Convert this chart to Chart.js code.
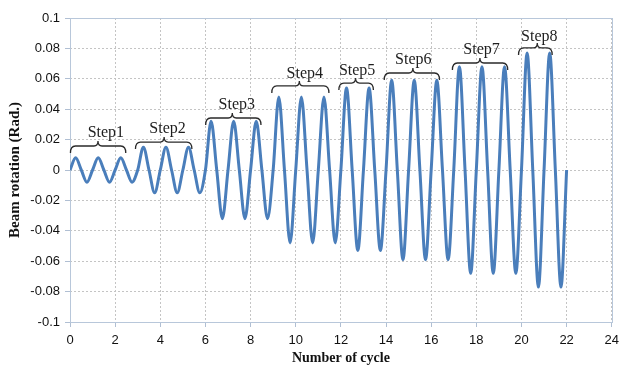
<!DOCTYPE html>
<html>
<head>
<meta charset="utf-8">
<script src="https://cdn.jsdelivr.net/npm/chart.js@4/dist/chart.umd.min.js"></script>
<style>
    html, body { margin: 0; padding: 0; background: #fff; }
    #wrap { width: 625px; height: 367px; }
</style>
</head>
<body>
<div id="wrap"><canvas id="beamRotation"></canvas></div>
<script>
// loading protocol: one +peak and one -peak per cycle
var stepNames = ["Step1", "Step2", "Step3", "Step4", "Step5", "Step6", "Step7", "Step8"];
var stepCycles = [3, 3, 3, 3, 2, 3, 3, 2];
var cyclePeaks = [0.008, 0.008, 0.008, 0.015, 0.015, 0.015, 0.032, 0.032, 0.032,
    0.048, 0.048, 0.048, 0.054, 0.054, 0.059, 0.059, 0.059,
    0.068, 0.068, 0.068, 0.077, 0.077];
var cycleTroughs = [-0.008, -0.008, -0.008, -0.015, -0.015, -0.015, -0.032, -0.032, -0.032,
    -0.048, -0.048, -0.048, -0.053, -0.053, -0.059, -0.059, -0.059,
    -0.068, -0.068, -0.068, -0.077, -0.077];
var xTicks = [0, 2, 4, 6, 8, 10, 12, 14, 16, 18, 20, 22, 24];
var yTicks = [-0.1, -0.08, -0.06, -0.04, -0.02, 0, 0.02, 0.04, 0.06, 0.08, 0.1];

// where each bracket + label sits (data units)
var bracketLayout = [
    { x0: 0.02, x1: 2.47, tip: 1.24, y: 0.0158, lx: 1.59, ly: 0.0217 },
    { x0: 2.90, x1: 5.40, tip: 4.17, y: 0.0184, lx: 4.32, ly: 0.0243 },
    { x0: 6.01, x1: 8.46, tip: 7.19, y: 0.0342, lx: 7.39, ly: 0.0401 },
    { x0: 8.94, x1: 11.47, tip: 10.16, y: 0.0553, lx: 10.40, ly: 0.0605 },
    { x0: 11.91, x1: 13.44, tip: 12.65, y: 0.0572, lx: 12.72, ly: 0.0625 },
    { x0: 13.92, x1: 16.37, tip: 15.19, y: 0.0638, lx: 15.21, ly: 0.0697 },
    { x0: 16.94, x1: 19.39, tip: 18.16, y: 0.0704, lx: 18.23, ly: 0.0763 },
    { x0: 19.87, x1: 21.36, tip: 20.70, y: 0.0803, lx: 20.79, ly: 0.0849 }
];

var BEAMCHART = new BeamChart();

function BeamChart() {
    var self = this;

    // zero, peak, zero, trough for every cycle, then back to zero at the end
    this.buildPoints = function () {
        var pts = [];
        for (var i = 0; i < cyclePeaks.length; i++) {
            pts.push({ x: i, y: 0 });
            pts.push({ x: i + 0.25, y: cyclePeaks[i] });
            pts.push({ x: i + 0.5, y: 0 });
            pts.push({ x: i + 0.75, y: cycleTroughs[i] });
        }
        pts.push({ x: cyclePeaks.length, y: 0 });
        return pts;
    }

    var frame = {
        id: 'frame',
        beforeDatasetsDraw: function (chart) {
            var a = chart.chartArea, ctx = chart.ctx;
            ctx.save();
            ctx.strokeStyle = '#b8c7da';
            ctx.lineWidth = 1;
            ctx.strokeRect(Math.round(a.left) + 0.5, Math.round(a.top) + 0.5,
                Math.round(a.right - a.left), Math.round(a.bottom - a.top));
            ctx.restore();
        }
    };

    var brackets = {
        id: 'brackets',
        afterDatasetsDraw: function (chart) {
            var xs = chart.scales.x, ys = chart.scales.y, ctx = chart.ctx;
            ctx.save();
            ctx.strokeStyle = '#2a2a2a';
            ctx.lineWidth = 1.3;
            ctx.fillStyle = '#1e1e1e';
            ctx.font = '16px "Liberation Serif", "Times New Roman", serif';
            ctx.textAlign = 'center';
            ctx.textBaseline = 'alphabetic';
            bracketLayout.forEach(function (b, i) {
                var x0 = xs.getPixelForValue(b.x0), x1 = xs.getPixelForValue(b.x1);
                var t = xs.getPixelForValue(b.tip), y = ys.getPixelForValue(b.y);
                ctx.beginPath();
                ctx.moveTo(x0, y + 7);
                ctx.quadraticCurveTo(x0, y, x0 + 5, y);
                ctx.lineTo(t - 4, y);
                ctx.quadraticCurveTo(t, y, t, y - 5);
                ctx.quadraticCurveTo(t, y, t + 4, y);
                ctx.lineTo(x1 - 5, y);
                ctx.quadraticCurveTo(x1, y, x1, y + 7);
                ctx.stroke();
                ctx.fillText(stepNames[i], xs.getPixelForValue(b.lx), ys.getPixelForValue(b.ly));
            });
            ctx.restore();
        }
    };

    this.load = function () {
        var tickFont = { family: '"Liberation Sans", Arial, sans-serif', size: 13 };
        var titleFont = { family: '"Liberation Serif", "Times New Roman", serif', weight: 'bold' };

        new Chart(document.getElementById("beamRotation"), {
            type: 'line',
            data: {
                datasets: [
                    {
                        label: "Beam rotation",
                        data: self.buildPoints(),
                        borderColor: '#4a7ebb',
                        borderWidth: 3,
                        pointRadius: 0,
                        fill: false,
                        cubicInterpolationMode: 'monotone'
                    }
                ]
            },
            options: {
                responsive: true,
                maintainAspectRatio: false,
                animation: false,
                layout: { padding: { top: 18, right: 6, bottom: 0, left: 0 } },
                plugins: {
                    legend: { display: false },
                    tooltip: { enabled: false }
                },
                scales: {
                    x: {
                        type: 'linear',
                        min: xTicks[0],
                        max: xTicks[xTicks.length - 1],
                        afterBuildTicks: function (s) { s.ticks = xTicks.map(function (v) { return { value: v }; }); },
                        afterFit: function (s) { s.height = 45; },
                        ticks: { font: tickFont, color: '#111', padding: 6, maxRotation: 0 },
                        grid: { color: '#c4c4c4', tickLength: 5, tickColor: '#b0bfd3', tickBorderDash: [] },
                        border: { display: false, dash: [2, 2] },
                        title: {
                            display: true,
                            text: 'Number of cycle',
                            font: Object.assign({ size: 14 }, titleFont),
                            color: '#111',
                            padding: { top: 2, bottom: 0 }
                        }
                    },
                    y: {
                        min: yTicks[0],
                        max: yTicks[yTicks.length - 1],
                        afterBuildTicks: function (s) { s.ticks = yTicks.map(function (v) { return { value: v }; }); },
                        afterFit: function (s) { s.width = 70; },
                        ticks: {
                            font: tickFont, color: '#111', padding: 5,
                            callback: function (v) { return String(+v.toFixed(2)); }
                        },
                        grid: { color: '#c4c4c4', tickLength: 5, tickColor: '#b0bfd3', tickBorderDash: [] },
                        border: { display: false, dash: [2, 2] },
                        title: {
                            display: true,
                            text: 'Beam rotation (Rad.)',
                            font: Object.assign({ size: 15 }, titleFont),
                            color: '#111',
                            padding: { top: 6, bottom: 0 }
                        }
                    }
                }
            },
            plugins: [frame, brackets]
        });
    }
}

BEAMCHART.load();
</script>
</body>
</html>
